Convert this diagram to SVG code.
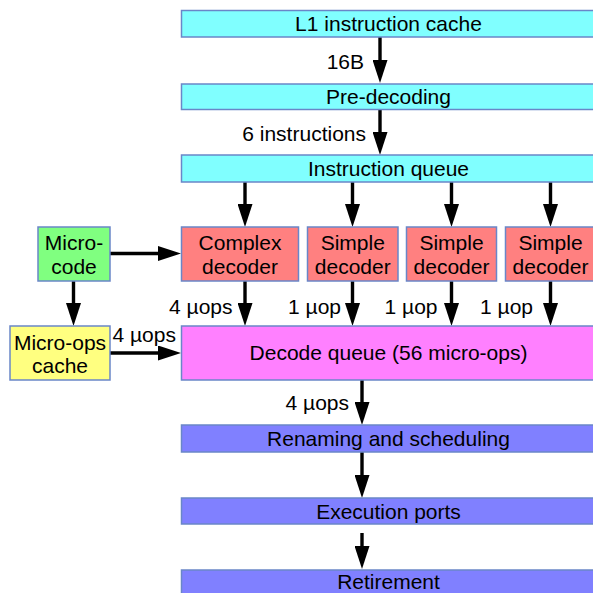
<svg xmlns="http://www.w3.org/2000/svg" width="593" height="593" viewBox="0 0 593 593">
<style>
text{font-family:"Liberation Sans",Arial,sans-serif;font-size:21px;fill:#000}
.c{text-anchor:middle}
.e{text-anchor:end}
.box{stroke:#6a86c8;stroke-width:1.5}
.cy{fill:#80ffff}.rd{fill:#ff8080}.gr{fill:#80ff80}.ye{fill:#ffff80}.mg{fill:#ff80ff}.bl{fill:#8080ff}
.arr{stroke:#000;stroke-width:3.4;fill:none;marker-end:url(#ah)}
</style>
<defs>
<marker id="ah" markerUnits="userSpaceOnUse" viewBox="0 0 23 15" refX="3" refY="7.5" markerWidth="23" markerHeight="15" orient="auto">
<path d="M0,0 L23,7.5 L0,15 z" fill="#000"/>
</marker>
</defs>
<rect width="593" height="593" fill="#fff"/>
<g id="connectors">
<line class="arr" x1="380" y1="37" x2="380" y2="63"/>
<line class="arr" x1="380" y1="110" x2="380" y2="135"/>
<line class="arr" x1="245" y1="182" x2="245" y2="207"/>
<line class="arr" x1="352.5" y1="182" x2="352.5" y2="207"/>
<line class="arr" x1="451.5" y1="182" x2="451.5" y2="207"/>
<line class="arr" x1="550.5" y1="182" x2="550.5" y2="207"/>
<line class="arr" x1="110" y1="253.5" x2="161" y2="253.5"/>
<line class="arr" x1="73.5" y1="281" x2="73.5" y2="306"/>
<line class="arr" x1="110" y1="353" x2="161" y2="353"/>
<line class="arr" x1="245" y1="281" x2="245" y2="306"/>
<line class="arr" x1="352.5" y1="281" x2="352.5" y2="306"/>
<line class="arr" x1="451.5" y1="281" x2="451.5" y2="306"/>
<line class="arr" x1="550.5" y1="281" x2="550.5" y2="306"/>
<line class="arr" x1="362" y1="380" x2="362" y2="405"/>
<line class="arr" x1="362" y1="452" x2="362" y2="478"/>
<line class="arr" x1="362" y1="533" x2="362" y2="549"/>
<text class="e" x="364" y="69">16B</text>
<text class="e" x="366" y="141">6 instructions</text>
<text class="e" x="232.5" y="314">4 µops</text>
<text class="e" x="341" y="314">1 µop</text>
<text class="e" x="437.5" y="314">1 µop</text>
<text class="e" x="533" y="314">1 µop</text>
<text x="112.5" y="341.5">4 µops</text>
<text class="e" x="349" y="410">4 µops</text>
</g>
<g id="l1cache"><rect class="box cy" x="181.5" y="10.5" width="420" height="26.5"/><text class="c" x="388.5" y="31">L1 instruction cache</text></g>
<g id="predecoding"><rect class="box cy" x="181.5" y="84" width="420" height="25.5"/><text class="c" x="388.5" y="104">Pre-decoding</text></g>
<g id="instructionqueue"><rect class="box cy" x="181.5" y="155" width="420" height="27"/><text class="c" x="388.5" y="176">Instruction queue</text></g>
<g id="microcode"><rect class="box gr" x="38" y="227" width="72" height="54"/><text class="c" x="74" y="250">Micro-</text><text class="c" x="74" y="273.5">code</text></g>
<g id="complexdecoder"><rect class="box rd" x="181.5" y="227" width="117" height="54"/><text class="c" x="240" y="250">Complex</text><text class="c" x="240" y="273.5">decoder</text></g>
<g id="simpledecoder1"><rect class="box rd" x="307.5" y="227" width="90.5" height="54"/><text class="c" x="352.75" y="250">Simple</text><text class="c" x="352.75" y="273.5">decoder</text></g>
<g id="simpledecoder2"><rect class="box rd" x="406.5" y="227" width="90" height="54"/><text class="c" x="451.5" y="250">Simple</text><text class="c" x="451.5" y="273.5">decoder</text></g>
<g id="simpledecoder3"><rect class="box rd" x="505.5" y="227" width="90" height="54"/><text class="c" x="550.5" y="250">Simple</text><text class="c" x="550.5" y="273.5">decoder</text></g>
<g id="microopscache"><rect class="box ye" x="10" y="326" width="100" height="54"/><text class="c" x="60" y="349.5">Micro-ops</text><text class="c" x="60" y="373">cache</text></g>
<g id="decodequeue"><rect class="box mg" x="181.5" y="326" width="420" height="54"/><text class="c" x="388.5" y="360">Decode queue (56 micro-ops)</text></g>
<g id="renaming"><rect class="box bl" x="181.5" y="425" width="420" height="27"/><text class="c" x="388.5" y="445.5">Renaming and scheduling</text></g>
<g id="executionports"><rect class="box bl" x="181.5" y="498" width="420" height="26"/><text class="c" x="388.5" y="518.5">Execution ports</text></g>
<g id="retirement"><rect class="box bl" x="181.5" y="570" width="420" height="30"/><text class="c" x="388.5" y="589">Retirement</text></g>
</svg>
